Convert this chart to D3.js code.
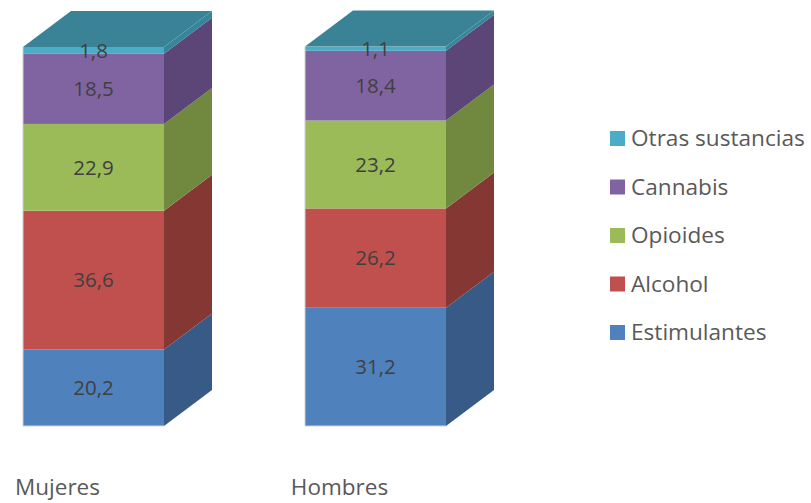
<!DOCTYPE html>
<html>
<head>
<meta charset="utf-8">
<script src="https://cdn.jsdelivr.net/npm/d3@7"></script>
<style>
  html, body { margin: 0; padding: 0; background: #ffffff; }
  svg { display: block; font-family: "Open Sans", "DejaVu Sans", sans-serif; }
</style>
</head>
<body>
<svg id="chart" width="811" height="503"></svg>
<script>
// ---- Data ----
const categories = ["Mujeres", "Hombres"];
const seriesNames = ["Estimulantes", "Alcohol", "Opioides", "Cannabis", "Otras sustancias"];
const estimulantes = [20.2, 31.2];
const alcohol = [36.6, 26.2];
const opioides = [22.9, 23.2];
const cannabis = [18.5, 18.4];
const otras = [1.8, 1.1];
const labels = [["20,2", "31,2"], ["36,6", "26,2"], ["22,9", "23,2"], ["18,5", "18,4"], ["1,8", "1,1"]];

const frontColors = ["#4F81BD", "#C0504D", "#9BBB59", "#8064A2", "#4BACC6"];
const sideColors  = ["#375A87", "#853734", "#71893F", "#5B4677", "#35869B"];
const topColor = "#3A8396";

const valuesBySeries = [estimulantes, alcohol, opioides, cannabis, otras];
const rows = categories.map((c, i) => {
  const r = { cat: c };
  seriesNames.forEach((s, k) => r[s] = valuesBySeries[k][i]);
  return r;
});
const stacked = d3.stack().keys(seriesNames)(rows);

// ---- Scales ----
const x = d3.scaleBand().domain(categories).range([-47.5, 516.5]).paddingInner(0.5).paddingOuter(0.25);
const y = d3.scaleLinear().domain([0, 100]).range([426, 47]);
const DX = 48, DY = -36;

const svg = d3.select("#chart");
const g = svg.append("g");

stacked.forEach((layer, k) => {
  layer.forEach((d, i) => {
    const cat = categories[i];
    const x0 = x(cat), x1 = x(cat) + x.bandwidth();
    const yb = y(d[0]), yt = y(d[1]);
    g.append("rect")
      .attr("x", x0).attr("y", yt)
      .attr("width", x.bandwidth()).attr("height", yb - yt)
      .attr("fill", frontColors[k]);
    g.append("path")
      .attr("d", `M${x1},${yb}L${x1 + DX},${yb + DY}L${x1 + DX},${yt + DY}L${x1},${yt}Z`)
      .attr("fill", sideColors[k]);
  });
});

categories.forEach((cat, i) => {
  const top = stacked[stacked.length - 1][i][1];
  const x0 = x(cat), x1 = x(cat) + x.bandwidth();
  const yt = y(top);
  g.append("path")
    .attr("d", `M${x0},${yt}L${x0 + DX},${yt + DY}L${x1 + DX},${yt + DY}L${x1},${yt}Z`)
    .attr("fill", topColor);
  const yb = y(0);
  g.append("path")
    .attr("d", `M${x0},${yt}L${x0},${yb}L${x1},${yb}`)
    .attr("fill", "none").attr("stroke", "#d0d0d0").attr("stroke-width", 1);
});

stacked.forEach((layer, k) => {
  layer.forEach((d, i) => {
    const cat = categories[i];
    g.append("text")
      .attr("x", x(cat) + x.bandwidth() / 2)
      .attr("y", (y(d[0]) + y(d[1])) / 2)
      .attr("dy", "0.35em")
      .attr("text-anchor", "middle")
      .attr("font-size", 20.5)
      .attr("fill", "#404040")
      .text(labels[k][i]);
  });
});

categories.forEach(cat => {
  g.append("text")
    .attr("x", x(cat) + x.bandwidth() / 2 - 36)
    .attr("y", 495)
    .attr("text-anchor", "middle")
    .attr("font-size", 22.5)
    .attr("fill", "#595959")
    .text(cat);
});

const legendNames = seriesNames.slice().reverse();
const legendColors = frontColors.slice().reverse();
const ly = d3.scalePoint().domain(legendNames).range([138.5, 332.5]);
const leg = svg.append("g");
legendNames.forEach((n, j) => {
  leg.append("rect")
    .attr("x", 610).attr("y", ly(n) - 7.5)
    .attr("width", 15).attr("height", 15)
    .attr("fill", legendColors[j]);
  leg.append("text")
    .attr("x", 631).attr("y", ly(n))
    .attr("dy", "0.35em")
    .attr("font-size", 22.6)
    .attr("fill", "#595959")
    .text(n);
});
</script>
</body>
</html>
